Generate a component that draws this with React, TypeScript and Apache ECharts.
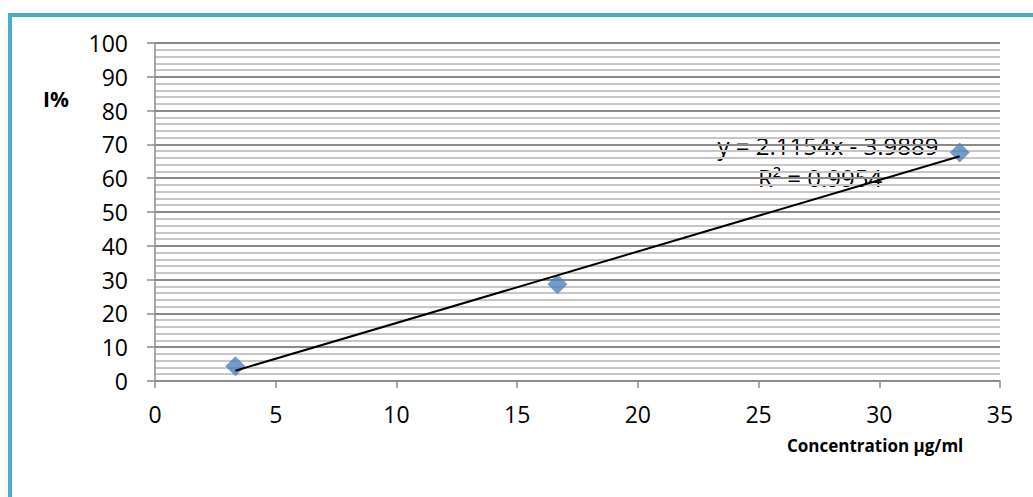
import React, { useEffect, useRef } from "react";
import * as echarts from "echarts";

const xValues = [3.33, 16.67, 33.33];
const yValues = [4.4, 28.6, 67.6];
const slope = 2.1154;
const intercept = -3.9889;
const rSquared = "0.9954";
const xTicks = [0, 5, 10, 15, 20, 25, 30, 35];
const yTicks = [0, 10, 20, 30, 40, 50, 60, 70, 80, 90, 100];

const FONT = "'Open Sans', sans-serif";

export default function App() {
  const ref = useRef<HTMLDivElement>(null);
  useEffect(() => {
    if (!ref.current) return;
    const chart = echarts.init(ref.current, null, { renderer: "svg" });
    const x0 = xValues[0];
    const x1 = xValues[xValues.length - 1];
    const trend = [
      [x0, slope * x0 + intercept],
      [x1, slope * x1 + intercept],
    ];
    chart.setOption({
      animation: false,
      backgroundColor: "#ffffff",
      grid: { left: 155, right: 33, top: 43, bottom: 116 },
      xAxis: {
        type: "value",
        min: xTicks[0],
        max: xTicks[xTicks.length - 1],
        interval: 5,
        axisLine: { show: true, onZero: false, lineStyle: { color: "#8c8c8c", width: 1.5 } },
        axisTick: { show: true, length: 7, lineStyle: { color: "#8c8c8c", width: 1.5 } },
        axisLabel: { color: "#000", fontSize: 23, fontFamily: FONT, margin: 21 },
        splitLine: { show: false },
      },
      yAxis: {
        type: "value",
        min: yTicks[0],
        max: yTicks[yTicks.length - 1],
        interval: 10,
        axisLine: { show: true, lineStyle: { color: "#8c8c8c", width: 1.5 } },
        axisTick: { show: true, length: 8, lineStyle: { color: "#8c8c8c", width: 1.5 } },
        axisLabel: { color: "#000", fontSize: 23, fontFamily: FONT, margin: 27 },
        splitLine: { show: true, lineStyle: { color: "#8a8a8a", width: 2 } },
        minorTick: { show: false, splitNumber: 5 },
        minorSplitLine: { show: true, lineStyle: { color: "#c6c6c6", width: 2 } },
      },
      graphic: [
        {
          type: "rect",
          shape: { x: 10, y: 15, width: 1200, height: 700 },
          style: { fill: "none", stroke: "#4BACC6", lineWidth: 4 },
          silent: true,
        },
        {
          type: "text",
          x: 43,
          y: 88,
          style: { text: "I%", font: `bold 21px ${FONT}`, fill: "#000" },
        },
        {
          type: "text",
          x: 787,
          y: 445,
          style: {
            text: "Concentration µg/ml",
            font: `bold 17px ${FONT}`,
            fill: "#000",
            verticalAlign: "middle",
          },
        },
        {
          type: "text",
          x: 828,
          y: 145,
          style: {
            text: `y = ${slope}x - ${Math.abs(intercept)}`,
            font: `24px ${FONT}`,
            fill: "#000",
            align: "center",
            verticalAlign: "middle",
          },
        },
        {
          type: "text",
          x: 820,
          y: 177,
          style: {
            text: `R² = ${rSquared}`,
            font: `24px ${FONT}`,
            fill: "#000",
            align: "center",
            verticalAlign: "middle",
          },
        },
      ],
      series: [
        {
          type: "line",
          data: trend,
          showSymbol: false,
          symbol: "none",
          lineStyle: { color: "#000", width: 2 },
          z: 3,
        },
        {
          type: "scatter",
          data: xValues.map((x, i) => [x, yValues[i]]),
          symbol: "diamond",
          symbolSize: [20, 20],
          itemStyle: { color: "#4F81BD" },
          z: 2,
        },
      ],
    });
    return () => chart.dispose();
  }, []);
  return <div ref={ref} style={{ width: 1033, height: 497, position: "absolute", left: 0, top: 0 }} />;
}
